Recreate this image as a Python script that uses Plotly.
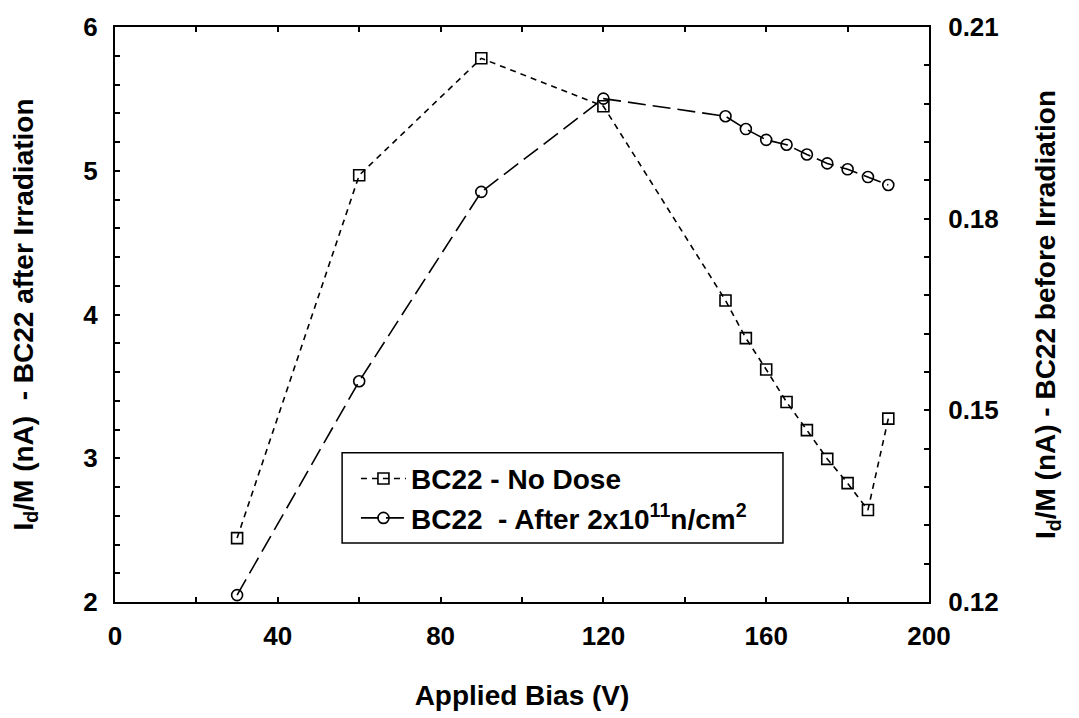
import plotly.graph_objects as go

bias = [30, 60, 90, 120, 150, 155, 160, 165, 170, 175, 180, 185, 190]
no_dose = [0.1300, 0.1868, 0.2051, 0.1976, 0.1672, 0.1613, 0.1564, 0.1513, 0.1469, 0.1424, 0.1386, 0.1344, 0.1487]
after_irr = [2.048, 3.536, 4.853, 5.502, 5.379, 5.290, 5.215, 5.181, 5.113, 5.051, 5.010, 4.956, 4.901]

FONT = "Liberation Sans, Arial, sans-serif"

fig = go.Figure()
fig.add_trace(go.Scatter(
    x=bias, y=no_dose, yaxis="y2", mode="lines+markers",
    name="BC22 - No Dose",
    line=dict(color="black", width=1.6, dash="6px,5px"),
    marker=dict(symbol="square-open", size=11, color="black", line=dict(width=1.6)),
))
fig.add_trace(go.Scatter(
    x=bias, y=after_irr, mode="lines+markers",
    name="BC22  - After 2x10<sup>11</sup>n/cm<sup>2</sup>",
    line=dict(color="black", width=1.6, dash="18px,7px"),
    marker=dict(symbol="circle-open", size=11, color="black", line=dict(width=1.6)),
))

tickfont = dict(family=FONT, size=26, color="black", weight="bold")
titlefont = dict(family=FONT, size=28, color="black", weight="bold")

axis_common = dict(
    showline=True, linecolor="black", linewidth=2,
    ticks="inside", ticklen=5, tickcolor="black", tickwidth=1.5,
    showgrid=False, zeroline=False,
    tickfont=tickfont,
)

fig.update_layout(
    width=1079, height=718,
    margin=dict(l=115, r=150, t=21, b=111),
    paper_bgcolor="white", plot_bgcolor="white",
    font=dict(family=FONT, color="black"),
    showlegend=True,
    xaxis=dict(
        range=[0, 200], dtick=40, mirror="ticks",
        minor=dict(dtick=20, ticks="inside", ticklen=5, tickcolor="black", tickwidth=1.5),
        ticklabelstandoff=10,
        title=dict(text="Applied Bias (V)", font=titlefont, standoff=35),
        **axis_common,
    ),
    yaxis=dict(
        range=[2, 6], dtick=1,
        minor=dict(dtick=0.2, ticks="inside", ticklen=5, tickcolor="black", tickwidth=1.5),
        ticklabelstandoff=10,
        title=dict(text="I<sub>d</sub>/M (nA)  - BC22 after Irradiation", font=titlefont, standoff=42),
        **axis_common,
    ),
    yaxis2=dict(
        range=[0.12, 0.21], dtick=0.03, tickformat=".2f",
        overlaying="y", side="right",
        minor=dict(dtick=0.006, ticks="inside", ticklen=5, tickcolor="black", tickwidth=1.5),
        ticklabelstandoff=12,
        title=dict(text="I<sub>d</sub>/M (nA) - BC22 before Irradiation", font=titlefont, standoff=38),
        **axis_common,
    ),
    legend=dict(
        x=0.296, y=0.2577, xanchor="left", yanchor="top",
        bgcolor="rgba(0,0,0,0)", borderwidth=0,
        font=dict(family=FONT, size=28, color="black", weight="bold"),
        itemwidth=45, tracegroupgap=0,
    ),
    shapes=[dict(
        type="rect", xref="paper", yref="paper",
        x0=0.279, x1=0.8206, y0=0.1024, y1=0.2594,
        line=dict(color="black", width=1.5), fillcolor="rgba(0,0,0,0)", layer="below",
    )],
)

fig.write_html("out.html")
